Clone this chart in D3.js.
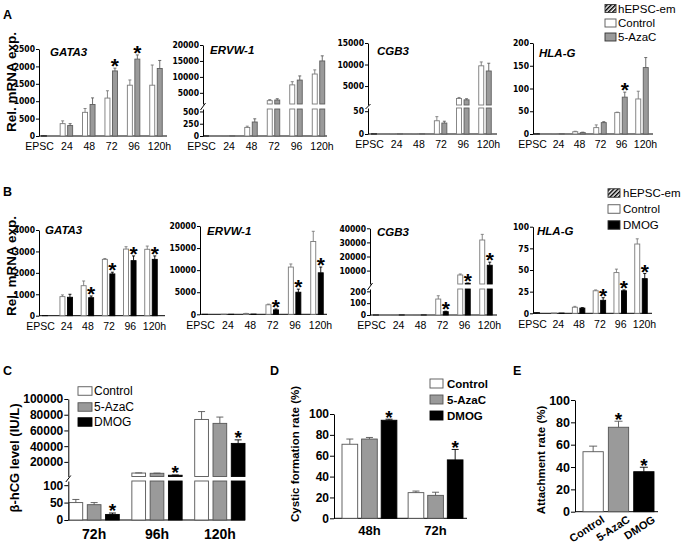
<!DOCTYPE html>
<html><head><meta charset="utf-8">
<script src="https://cdn.jsdelivr.net/npm/d3@7"></script>
<style>body{margin:0;background:#fff} svg{display:block}</style>
</head><body><svg id="c" width="685" height="546"></svg>
<script>
// ---------------- DATA ----------------
const timeCats = ["EPSC","24","48","72","96","120h"];
const geneNames = ["GATA3","ERVW-1","CGB3","HLA-G"];
const epscEm = [3, 1, 0.2, 0.3]; // hEPSC-em level at EPSC (GATA3, ERVW-1, CGB3, HLA-G)

// Panel A: Control vs 5-AzaC
const aGata3Ctrl    = [null, 355, 680, 1090, 1460, 1460];
const aGata3CtrlErr = [null, 80, 110, 210, 150, 580];
const aGata3Aza     = [null, 300, 905, 1870, 2210, 1940];
const aGata3AzaErr  = [null, 55, 190, 80, 120, 230];
const aGata3Sig = ["72","96"];

const aErvCtrl    = [null, 2, 175, 2550, 7500, 10900];
const aErvCtrlErr = [null, 0, 25, 350, 1000, 1300];
const aErvAza     = [null, 3, 285, 2750, 9000, 15000];
const aErvAzaErr  = [null, 0, 65, 400, 1300, 1600];
const aErvSig = [];

const aCgbCtrl    = [null, 0.3, 0.5, 29, 2100, 9700];
const aCgbCtrlErr = [null, 0, 0, 9, 250, 900];
const aCgbAza     = [null, 0.3, 0.5, 24, 1800, 8500];
const aCgbAzaErr  = [null, 0, 0, 4, 250, 1800];
const aCgbSig = [];

const aHlaCtrl    = [null, 0.5, 5, 14, 47, 77];
const aHlaCtrlErr = [null, 0, 1, 6, 1, 17];
const aHlaAza     = [null, 0.5, 3, 25, 81, 146];
const aHlaAzaErr  = [null, 0, 1, 2, 11, 22];
const aHlaSig = ["96"];

// Panel B: Control vs DMOG
const bGata3Ctrl    = [null, 890, 1400, 2630, 3110, 3100];
const bGata3CtrlErr = [null, 80, 220, 40, 110, 150];
const bGata3Dmog    = [null, 860, 840, 1950, 2570, 2630];
const bGata3DmogErr = [null, 140, 80, 80, 220, 160];
const bGata3Sig = ["48","72","96","120h"];

const bErvCtrl    = [null, 10, 180, 2150, 10700, 16500];
const bErvCtrlErr = [null, 0, 40, 150, 700, 2300];
const bErvDmog    = [null, 10, 50, 1000, 5000, 9400];
const bErvDmogErr = [null, 0, 0, 200, 700, 1300];
const bErvSig = ["72","96","120h"];

const bCgbCtrl    = [null, 0.5, 0.5, 135, 6900, 31700];
const bCgbCtrlErr = [null, 0, 0, 28, 700, 4000];
const bCgbDmog    = [null, 0.5, 0.5, 28, 1000, 13800];
const bCgbDmogErr = [null, 0, 0, 4, 200, 2200];
const bCgbSig = ["72","96","120h"];

const bHlaCtrl    = [null, 0.3, 7, 26, 47, 80];
const bHlaCtrlErr = [null, 0, 1, 1, 4, 6];
const bHlaDmog    = [null, 0.3, 6, 15, 26, 40];
const bHlaDmogErr = [null, 0, 0.5, 3, 1, 6];
const bHlaSig = ["72","96","120h"];

// Panel C: beta-hCG level
const cCats = ["72h","96h","120h"];
const cSeries = ["Control","5-AzaC","DMOG"];
const cCtrl = [50, 5800, 74000];   const cCtrlErr = [9, 200, 10000];
const cAza  = [44, 5500, 69000];   const cAzaErr  = [6, 200, 8000];
const cDmog = [16, 3000, 43500];   const cDmogErr = [4, 300, 4500];

// Panel D: cystic formation rate
const dCats = ["48h","72h"];
const dCtrl = [71, 24.6];  const dCtrlErr = [5, 1.5];
const dAza  = [76, 22];    const dAzaErr  = [1.5, 3];
const dDmog = [94, 56];    const dDmogErr = [1, 10];

// Panel E: attachment rate
const eCats = ["Control","5-AzaC","DMOG"];
const eVals = [53.7, 75.6, 35.8];
const eErr  = [5, 5.4, 4];
const eSig  = ["5-AzaC","DMOG"];

// ---------------- DRAWING ----------------
const svg = d3.select("#c");
const SANS = "'Liberation Sans', Arial, Helvetica, sans-serif";
const NARROW = "'Liberation Sans Narrow', 'Arial Narrow', 'DejaVu Sans Condensed', sans-serif";
const GRAY = "#9a9a9a";

const defs = svg.append("defs");
const pat = defs.append("pattern").attr("id","hatch").attr("patternUnits","userSpaceOnUse")
  .attr("width",3).attr("height",3).attr("patternTransform","rotate(45)");
pat.append("rect").attr("width",3).attr("height",3).attr("fill","#fff");
pat.append("line").attr("x1",0.75).attr("y1",0).attr("x2",0.75).attr("y2",3).attr("stroke","#000").attr("stroke-width",1.5);

function star(g, x, yTop, fs, gap) {
  g.append("text").text("*").attr("x", x).attr("y", yTop - gap + 0.39*fs)
    .attr("text-anchor","middle").attr("font-family",SANS).attr("font-weight","bold")
    .attr("font-size",fs).attr("fill","#000");
}

function rotLabel(text, cx, cy, fs) {
  svg.append("text").text(text).attr("transform",`translate(${cx},${cy}) rotate(-90)`)
    .attr("text-anchor","middle").attr("dominant-baseline","central")
    .attr("font-family",SANS).attr("font-weight","bold").attr("font-size",fs);
}
function panelLetter(t, x, y) {
  svg.append("text").text(t).attr("x",x).attr("y",y).attr("font-family",SANS)
    .attr("font-weight","bold").attr("font-size",12.5);
}

// Generic segmented-axis bar drawing
function makeSegs(segs) {
  return segs.map(s => Object.assign({}, s, {y: d3.scaleLinear().domain(s.domain).range(s.range)}));
}
function segOf(segs, v) {
  let s = segs[0];
  segs.forEach((t,i) => { if (i > 0 && v >= t.domain[0]) s = t; });
  return s;
}
function bar(g, segs, x, w, v, err, fill, stroke, capW) {
  segs.forEach(s => {
    if (v > s.domain[0]) {
      const top = Math.min(v, s.domain[1]);
      g.append("rect").attr("x", x).attr("width", w)
        .attr("y", s.y(top)).attr("height", Math.max(0, s.y(s.domain[0]) - s.y(top)))
        .attr("fill", fill).attr("stroke", stroke).attr("stroke-width", 0.9);
    }
  });
  const sv = segOf(segs, v);
  let topY = sv.y(Math.min(v, sv.domain[1]));
  if (err > 0) {
    const t = v + err;
    const s = segOf(segs, t);
    const y1 = s.y(Math.max(v, s.domain[0])), y2 = s.y(Math.min(t, s.domain[1]));
    const cx = x + w/2;
    g.append("line").attr("x1",cx).attr("x2",cx).attr("y1",y1).attr("y2",y2).attr("stroke",stroke).attr("stroke-width",0.9);
    g.append("line").attr("x1",cx-capW/2).attr("x2",cx+capW/2).attr("y1",y2).attr("y2",y2).attr("stroke",stroke).attr("stroke-width",0.9);
    topY = y2;
  }
  return topY;
}
function yAxes(g, segs, x0, tickSize, fontFam, fs, fw) {
  segs.forEach(s => {
    const ax = g.append("g").attr("transform",`translate(${x0},0)`)
      .call(d3.axisLeft(s.y).tickValues(s.ticks).tickSize(tickSize).tickPadding(1).tickSizeOuter(0).tickFormat(d3.format("d")));
    ax.selectAll("text").attr("font-family",fontFam).attr("font-size",fs).attr("font-weight",fw).attr("fill","#000");
    ax.selectAll("line,path").attr("stroke","#000").attr("stroke-width",1);
  });
  if (segs.length > 1) {
    const yl = segs[0].range[1], yu = segs[1].range[0];
    g.append("line").attr("x1",x0-2.5).attr("y1",yl+1).attr("x2",x0+2.5).attr("y2",yu-1)
      .attr("stroke","#000").attr("stroke-width",1);
  }
}

function geneChart(cfg) {
  const g = svg.append("g");
  const segs = makeSegs(cfg.segs);
  const base = segs[0].range[0];
  const x = d3.scalePoint().domain(timeCats).range(cfg.xr);
  const bw = 5, gap = 2.5;
  // x axis
  const xa = g.append("g").attr("transform",`translate(0,${base})`)
    .call(d3.axisBottom(x).tickSize(0).tickPadding(7));
  xa.select(".domain").remove();
  xa.selectAll("text").attr("font-family",SANS).attr("font-size",10.5).attr("fill","#000")
    .attr("dx", d => d === "EPSC" ? -5 : (d === "120h" ? 3 : 0));
  g.append("line").attr("x1",cfg.x0).attr("x2",cfg.x1).attr("y1",base).attr("y2",base).attr("stroke","#000");
  // hEPSC-em bar
  bar(g, segs, x("EPSC") - bw/2, bw, cfg.em, 0, "url(#hatch)", "#000", 3);
  timeCats.forEach((c,i) => {
    if (cfg.ctrl[i] == null) return;
    const cx = x(c);
    bar(g, segs, cx - gap/2 - bw, bw, cfg.ctrl[i], cfg.ctrlErr[i], "#fff", "#7a7a7a", 3);
    const t = bar(g, segs, cx + gap/2, bw, cfg.trt[i], cfg.trtErr[i], cfg.trtFill, cfg.trtStroke, 3);
    if (cfg.sig.includes(c)) star(g, cx + gap/2 + bw/2, t, 21, 3);
  });
  yAxes(g, segs, cfg.x0, 3, NARROW, 8.5, "bold");
  g.append("text").text(cfg.title).attr("x",cfg.tx).attr("y",cfg.ty).attr("font-family",SANS)
    .attr("font-weight","bold").attr("font-style","italic").attr("font-size",11.5);
}

// Panel A
panelLetter("A", 3, 19);
rotLabel("Rel. mRNA exp.", 11, 82, 13.5);
const aFill = GRAY, aStroke = "#5e5e5e";
geneChart({x0:39, x1:167, xr:[44,156], title:"GATA3", tx:50, ty:56, em:epscEm[0],
  segs:[{domain:[0,2500], range:[136,49], ticks:[0,500,1000,1500,2000,2500]}],
  ctrl:aGata3Ctrl, ctrlErr:aGata3CtrlErr, trt:aGata3Aza, trtErr:aGata3AzaErr, sig:aGata3Sig, trtFill:aFill, trtStroke:aStroke});
geneChart({x0:203, x1:327, xr:[206,318.5], title:"ERVW-1", tx:210, ty:54, em:epscEm[1],
  segs:[{domain:[0,550], range:[136,109], ticks:[0,250,500]},
        {domain:[1500,20000], range:[104,45], ticks:[5000,10000,15000,20000]}],
  ctrl:aErvCtrl, ctrlErr:aErvCtrlErr, trt:aErvAza, trtErr:aErvAzaErr, sig:aErvSig, trtFill:aFill, trtStroke:aStroke});
geneChart({x0:368, x1:497, xr:[374,485], title:"CGB3", tx:377, ty:55, em:epscEm[2],
  segs:[{domain:[0,57], range:[134,108], ticks:[0,50]},
        {domain:[600,15000], range:[105,43], ticks:[5000,10000,15000]}],
  ctrl:aCgbCtrl, ctrlErr:aCgbCtrlErr, trt:aCgbAza, trtErr:aCgbAzaErr, sig:aCgbSig, trtFill:aFill, trtStroke:aStroke});
geneChart({x0:533, x1:653, xr:[537,642], title:"HLA-G", tx:539, ty:57, em:epscEm[3],
  segs:[{domain:[0,200], range:[134,43], ticks:[0,50,100,150,200]}],
  ctrl:aHlaCtrl, ctrlErr:aHlaCtrlErr, trt:aHlaAza, trtErr:aHlaAzaErr, sig:aHlaSig, trtFill:aFill, trtStroke:aStroke});

// Panel B
panelLetter("B", 3, 196);
rotLabel("Rel. mRNA exp.", 11, 266, 13.5);
geneChart({x0:39, x1:165, xr:[45,151], title:"GATA3", tx:45, ty:234, em:1,
  segs:[{domain:[0,4000], range:[315.7,230], ticks:[0,1000,2000,3000,4000]}],
  ctrl:bGata3Ctrl, ctrlErr:bGata3CtrlErr, trt:bGata3Dmog, trtErr:bGata3DmogErr, sig:bGata3Sig, trtFill:"#000", trtStroke:"#000"});
geneChart({x0:200, x1:327, xr:[205,317], title:"ERVW-1", tx:207, ty:235, em:1,
  segs:[{domain:[0,20000], range:[314.3,226], ticks:[0,5000,10000,15000,20000]}],
  ctrl:bErvCtrl, ctrlErr:bErvCtrlErr, trt:bErvDmog, trtErr:bErvDmogErr, sig:bErvSig, trtFill:"#000", trtStroke:"#000"});
geneChart({x0:370, x1:497, xr:[376,486], title:"CGB3", tx:377, ty:236, em:0.2,
  segs:[{domain:[0,220], range:[315,289], ticks:[0,100,200]},
        {domain:[500,40000], range:[284,228.3], ticks:[10000,20000,30000,40000]}],
  ctrl:bCgbCtrl, ctrlErr:bCgbCtrlErr, trt:bCgbDmog, trtErr:bCgbDmogErr, sig:bCgbSig, trtFill:"#000", trtStroke:"#000"});
geneChart({x0:533, x1:652, xr:[537,641], title:"HLA-G", tx:537, ty:235, em:0.8,
  segs:[{domain:[0,100], range:[313.3,226.7], ticks:[0,25,50,75,100]}],
  ctrl:bHlaCtrl, ctrlErr:bHlaCtrlErr, trt:bHlaDmog, trtErr:bHlaDmogErr, sig:bHlaSig, trtFill:"#000", trtStroke:"#000"});

// Legends A / B
function legendAB(x, ys, labels, fills, bw, bh, tx) {
  labels.forEach((l,i) => {
    svg.append("rect").attr("x",x).attr("y",ys[i]-bh/2).attr("width",bw).attr("height",bh)
      .attr("fill",fills[i]).attr("stroke", i===1 ? "#555" : "#333").attr("stroke-width",0.9);
    svg.append("text").text(l).attr("x",tx).attr("y",ys[i]).attr("dominant-baseline","central")
      .attr("font-family",SANS).attr("font-size",11.5);
  });
}
legendAB(605, [8.5, 23, 37], ["hEPSC-em","Control","5-AzaC"], ["url(#hatch)","#fff",GRAY], 11, 8, 618);
legendAB(608, [193, 209, 225], ["hEPSC-em","Control","DMOG"], ["url(#hatch)","#fff","#000"], 12, 8.5, 623);

// Grouped bar charts C, D
const fillsCDE = ["#fff", GRAY, "#000"];
const strokesCDE = ["#555", "#555", "#000"];
function groupChart(cfg) {
  const g = svg.append("g");
  const segs = makeSegs(cfg.segs);
  const base = segs[0].range[0];
  const x = d3.scaleBand().domain(cfg.cats).range(cfg.xr).paddingInner(cfg.pad).paddingOuter(0);
  const xs = d3.scaleBand().domain(cSeries).range([0, x.bandwidth()]).paddingInner(cfg.subPad);
  const xa = g.append("g").attr("transform",`translate(0,${base})`)
    .call(d3.axisBottom(x).tickSize(0).tickPadding(cfg.lblPad));
  xa.select(".domain").remove();
  xa.selectAll("text").attr("font-family",SANS).attr("font-weight","bold").attr("font-size",cfg.lblFs).attr("fill","#000");
  g.append("line").attr("x1",cfg.x0).attr("x2",cfg.x1).attr("y1",base).attr("y2",base).attr("stroke","#000");
  cfg.cats.forEach((c,i) => {
    cfg.series.forEach((ser,j) => {
      const bx = x(c) + xs(cSeries[j]);
      const t = bar(g, segs, bx, xs.bandwidth(), ser.v[i], ser.e[i], fillsCDE[j], strokesCDE[j], 7);
      if (ser.sig && ser.sig[i]) star(g, bx + xs.bandwidth()/2, t, 19, 3);
    });
  });
  yAxes(g, segs, cfg.x0, 4, SANS, 12, "bold");
}

panelLetter("C", 3, 375);
rotLabel("β-hCG level (IU/L)", 14, 458, 13);
groupChart({x0:68.3, x1:245, xr:[69,245], pad:0.2, subPad:0.25, cats:cCats, lblPad:9, lblFs:14,
  segs:[{domain:[0,112], range:[520,481], ticks:[0,50,100]},
        {domain:[1400,100000], range:[476.5,399], ticks:[20000,40000,60000,80000,100000]}],
  series:[{v:cCtrl,e:cCtrlErr},{v:cAza,e:cAzaErr},{v:cDmog,e:cDmogErr,sig:[1,1,1]}]});

panelLetter("D", 270, 375);
rotLabel("Cystic formation rate (%)", 295, 454, 11.5);
groupChart({x0:334, x1:467, xr:[342,463], pad:0.17, subPad:0.2, cats:dCats, lblPad:7, lblFs:13,
  segs:[{domain:[0,100], range:[518.3,414], ticks:[0,20,40,60,80,100]}],
  series:[{v:dCtrl,e:dCtrlErr},{v:dAza,e:dAzaErr},{v:dDmog,e:dDmogErr,sig:[1,1]}]});

// Legends C, D
function legendCD(x, ys, bw, bh, tx, fs, fw) {
  cSeries.forEach((l,i) => {
    svg.append("rect").attr("x",x).attr("y",ys[i]-bh/2).attr("width",bw).attr("height",bh)
      .attr("fill",fillsCDE[i]).attr("stroke",strokesCDE[i]).attr("stroke-width",0.9);
    svg.append("text").text(l).attr("x",tx).attr("y",ys[i]).attr("dominant-baseline","central")
      .attr("font-family",SANS).attr("font-size",fs).attr("font-weight",fw);
  });
}
legendCD(78, [391, 407, 422], 14, 8.5, 94, 12, "normal");
legendCD(430, [383.5, 399.5, 415.5], 13, 9, 447, 11.5, "bold");

// Panel E
panelLetter("E", 513, 375);
rotLabel("Attachment rate (%)", 541, 460, 11.5);
(function(){
  const g = svg.append("g");
  const segs = makeSegs([{domain:[0,100], range:[511.7,400], ticks:[0,20,40,60,80,100]}]);
  const x = d3.scaleBand().domain(eCats).range([583,654]).paddingInner(0.2).paddingOuter(0);
  g.append("line").attr("x1",575).attr("x2",658).attr("y1",511.7).attr("y2",511.7).attr("stroke","#000");
  eCats.forEach((c,i) => {
    const t = bar(g, segs, x(c), x.bandwidth(), eVals[i], eErr[i], fillsCDE[i], strokesCDE[i], 8);
    if (eSig.includes(c)) star(g, x(c) + x.bandwidth()/2, t, 19, 3);
    g.append("text").text(c).attr("transform",`translate(${x(c)+x.bandwidth()/2+8},${515}) rotate(-33)`)
      .attr("text-anchor","end").attr("dy","0.7em").attr("font-family",SANS).attr("font-weight","bold").attr("font-size",11);
  });
  yAxes(g, segs, 575, 4, SANS, 12.5, "bold");
})();
</script>
</body></html>
